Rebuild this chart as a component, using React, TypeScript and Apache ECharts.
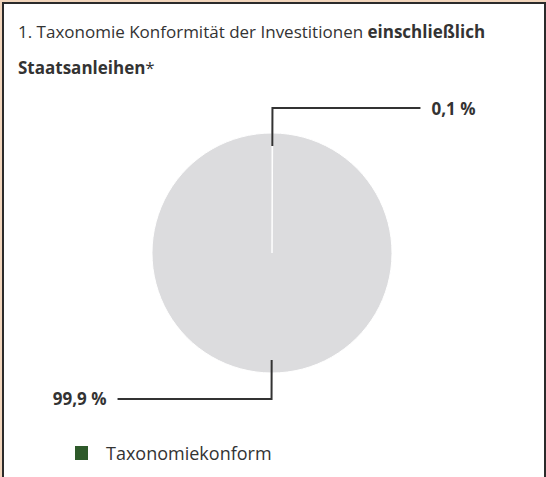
import React, { useEffect, useRef } from "react";
import * as echarts from "echarts";

const categories = ["Taxonomiekonform", "Nicht taxonomiekonform"];
const values = [0.1, 99.9];
const colors = ["#2e5a2a", "#dcdcde"];
const titleRegular = "1. Taxonomie Konformität der Investitionen ";
const titleBold1 = "einschließlich";
const titleBold2 = "Staatsanleihen";
const legendItems = ["Taxonomiekonform"];

const FONT = "'Open Sans', 'Noto Sans', sans-serif";
const fmt = (v: number) => `${v.toFixed(1).replace(".", ",")} %`;

export default function App() {
  const ref = useRef<HTMLDivElement>(null);
  useEffect(() => {
    if (!ref.current) return;
    const chart = echarts.init(ref.current, null, { renderer: "svg" });
    chart.setOption({
      animation: false,
      backgroundColor: "#ffffff",
      title: {
        left: 18,
        top: 13,
        padding: 0,
        text: `${titleRegular}{b|${titleBold1}}\n{b|${titleBold2}}*`,
        textStyle: {
          fontFamily: FONT,
          fontSize: 17,
          fontWeight: "normal",
          color: "#333333",
          lineHeight: 36,
          rich: {
            b: { fontFamily: FONT, fontSize: 17, fontWeight: "bold", color: "#333333", lineHeight: 36 },
          },
        },
      },
      legend: {
        data: legendItems,
        left: 73,
        top: 443,
        padding: 0,
        itemWidth: 15,
        itemHeight: 16,
        icon: "rect",
        textStyle: {
          fontFamily: FONT,
          fontSize: 18,
          lineHeight: 20,
          color: "#333333",
          padding: [0, 0, 0, 12],
        },
      },
      series: [
        {
          type: "pie",
          z: 2,
          center: [272, 253],
          radius: [0, 120],
          startAngle: 90,
          clockwise: true,
          silent: true,
          itemStyle: { borderColor: "#ffffff", borderWidth: 1 },
          label: { show: false },
          labelLine: { show: false },
          emphasis: { disabled: true },
          data: categories.map((name, i) => ({
            name,
            value: values[i],
            itemStyle: { color: colors[i] },
          })),
        },
        {
          type: "pie",
          z: 5,
          center: [272, 253],
          radius: [0, 107],
          startAngle: 90,
          clockwise: true,
          silent: true,
          legendHoverLink: false,
          avoidLabelOverlap: false,
          itemStyle: { color: "rgba(0,0,0,0)", borderWidth: 0 },
          label: {
            show: true,
            position: "outside",
            alignTo: "none",
            distanceToLabelLine: 11,
            fontFamily: FONT,
            fontSize: 17,
            fontWeight: "bold",
            color: "#333333",
            formatter: (p: any) => fmt(Number(p.value)),
          },
          labelLine: {
            show: true,
            length: 38,
            length2: 148,
            lineStyle: { color: "#333333", width: 2 },
          },
          emphasis: { disabled: true },
          data: categories.map((name, i) => ({
            name: name + " ",
            value: values[i],
            labelLine: i === 1 ? { length: 39, length2: 154 } : undefined,
          })),
        },
      ],
    });
    return () => chart.dispose();
  }, []);
  return (
    <>
      <div
        ref={ref}
        style={{ position: "fixed", left: 0, top: 0, width: 546, height: 477 }}
      />
      <div
        style={{
          position: "fixed",
          left: 0,
          top: 0,
          width: 546,
          height: 477,
          boxSizing: "border-box",
          borderTop: "2px solid #f2d6bd",
          borderLeft: "2px solid #f2d6bd",
          pointerEvents: "none",
        }}
      >
        <div
          style={{
            width: "100%",
            height: "100%",
            boxSizing: "border-box",
            borderTop: "2px solid #2b2b2b",
            borderLeft: "2px solid #2b2b2b",
            borderRight: "2px solid #2b2b2b",
          }}
        />
      </div>
    </>
  );
}
